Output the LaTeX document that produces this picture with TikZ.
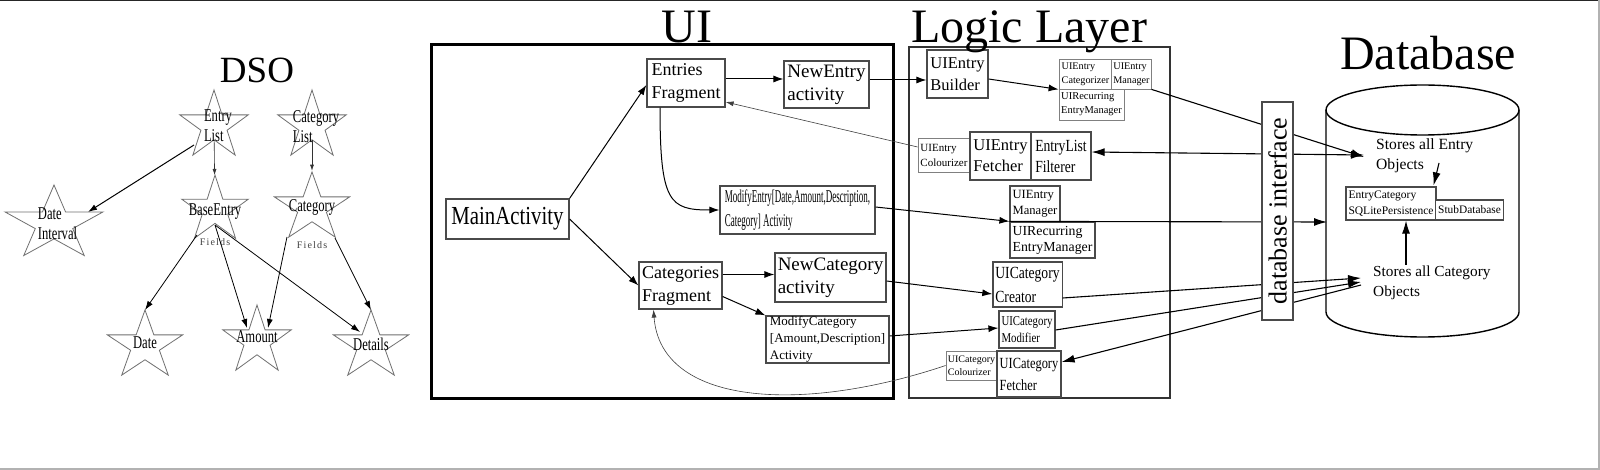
\documentclass[tikz,border=0pt]{standalone}
\usepackage{fontspec}
\usepackage{graphicx}
\setmainfont{Liberation Serif}
\newfontfamily\condfont[FakeStretch=0.8]{Liberation Serif}
\newfontfamily\starfont[FakeStretch=0.7]{Liberation Serif}
\newfontfamily\vcondfont[FakeStretch=0.5]{Liberation Serif}
\newfontfamily\fieldsfont[LetterSpace=12]{Liberation Serif}
\usetikzlibrary{shapes.geometric,arrows.meta,calc}
\newcommand\myfs[2]{\fontsize{#1}{#2}\selectfont}
\definecolor{boxgray}{HTML}{4A4A4A}
\definecolor{lightbox}{HTML}{808080}
\definecolor{stargray}{HTML}{707070}
\tikzset{
  bx/.style={draw=boxgray, line width=1.2pt, inner xsep=2.5pt, inner ysep=0pt, align=left, fill=white},
  sbx/.style={bx, draw=lightbox, line width=0.8pt, inner xsep=1.5pt},
  dstar/.style={star, star points=5, star point ratio=2.618, draw=stargray, line width=0.8pt, inner sep=0pt},
  stxt/.style={font=\starfont\myfs{18}{20}, align=left, inner sep=0pt},
  ftxt/.style={font=\fieldsfont\myfs{10}{12}, text=black!75, inner sep=0pt},
  arr/.style={draw=black, line width=1pt, -{Latex[length=10pt,width=7pt]}},
  bigarr/.style={draw=black, line width=1.1pt, -{Latex[length=13pt,width=8pt]}},
  botharr/.style={draw=black, line width=1.1pt, {Latex[length=13pt,width=8pt]}-{Latex[length=13pt,width=8pt]}},
  thinarr/.style={draw=black!75, line width=0.6pt, -{Latex[length=8pt,width=5pt]}},
  darr/.style={draw=black, line width=0.8pt, -{Latex[length=9pt,width=6pt]}},
  sarr/.style={draw=black!80, line width=0.6pt, -{Latex[length=6pt,width=4pt]}},
  ttl/.style={anchor=base, inner sep=0pt}
}
\begin{document}
\begin{tikzpicture}[x=1pt,y=-1pt]
\useasboundingbox (0,0) rectangle (1600,470);
\fill[white] (0,0) rectangle (1600,470);
\draw[line width=1.5pt, black!85] (0,0.75) -- (1600,0.75);
\draw[line width=2pt, black!30] (1599,0) -- (1599,470);
\draw[line width=2pt, black!30] (0,469) -- (1600,469);

% ---------------- DSO ----------------
\node[ttl, font=\myfs{37}{40}] (tdso) at (257,83) {DSO};
\node[dstar, minimum size=72pt] (el) at (214,126) {};
\node[dstar, minimum size=72pt] (cl) at (312,126) {};
\begin{scope}[shift={(54,224)}]
  \node[dstar, minimum size=78pt, xscale=1.32, transform shape] (di) at (0,0) {};
\end{scope}
\node[dstar, minimum size=70pt] (be) at (215,210) {};
\begin{scope}[shift={(312,208)}]
  \node[dstar, minimum size=72pt, xscale=1.1, transform shape] (ca) at (0,0) {};
\end{scope}
\begin{scope}[shift={(145,346)}]
  \node[dstar, minimum size=72pt, xscale=1.1, transform shape] (da) at (0,0) {};
\end{scope}
\node[dstar, minimum size=72pt] (am) at (257,341) {};
\begin{scope}[shift={(371,346)}]
  \node[dstar, minimum size=72pt, xscale=1.1, transform shape] (de) at (0,0) {};
\end{scope}

\node[stxt] (elt) at (218,126) {Entry\\List};
\node[stxt] (clt) at (316,126.5) {Category\\List};
\node[stxt] (dit) at (57.5,223.5) {Date\\Interval};
\node[stxt] (bet) at (215,212) {BaseEntry};
\node[stxt] (cat) at (312,207) {Category};
\node[stxt] (dat) at (145,343) {Date};
\node[stxt] (amt) at (257,337) {Amount};
\node[stxt] (det) at (371,344) {Details};
\node[ftxt] (bef) at (215,242) {Fields};
\node[ftxt] (caf) at (312,245) {Fields};

\draw[sarr] (el) -- (be);
\draw[sarr] (cl) -- (ca);
\draw[darr, line width=1pt] ($(el)+(-20,19)$) -- ($(di)+(34,-12)$);
\draw[darr] ($(be)+(-18,25)$) -- ($(da)+(0,-36)$);
\draw[darr] ($(be)+(0,15)$) -- ($(am)+(-10,-13)$);
\draw[darr] ($(be)+(0,15)$) -- ($(de)+(-11,-14)$);
\draw[darr] ($(ca)+(-25,29)$) -- ($(am)+(11,-13)$);
\draw[darr] ($(ca)+(23,30)$) -- ($(de)+(0,-36)$);

% ---------------- frames ----------------
\node[draw=black, line width=3pt, minimum width=462pt, minimum height=353pt, inner sep=0pt] (uibox) at (662,221.5) {};
\node[draw=black!80, line width=2pt, minimum width=261pt, minimum height=351pt, inner sep=0pt] (llbox) at (1039.5,222.5) {};

% ---------------- UI ----------------
\node[bx, minimum width=78pt, minimum height=48pt, font=\myfs{18}{23}] (ef) at (686,83) {Entries\\Fragment};
\node[bx, minimum width=85pt, minimum height=47pt, font=\myfs{19}{23}] (ne) at (826.5,84.5) {NewEntry\\activity};
\node[bx, minimum width=123pt, minimum height=40pt, font=\condfont\myfs{26}{28}] (ma) at (507.5,219) {MainActivity};
\node[bx, minimum width=155pt, minimum height=48pt, font=\vcondfont\myfs{18}{24}] (me) at (797.5,210) {ModifyEntry[Date,Amount,Description,\\Category] Activity};
\node[bx, minimum width=83pt, minimum height=47pt, font=\myfs{18}{23}] (cf) at (680.5,285.5) {Categories\\Fragment};
\node[bx, minimum width=111pt, minimum height=49pt, font=\myfs{19}{23}] (nc) at (830.5,277.5) {NewCategory\\activity};
\node[bx, minimum width=123pt, minimum height=47pt, font=\myfs{13}{17}] (mc) at (827.5,339.5) {ModifyCategory\\{}[Amount,Description]\\Activity};

% ---------------- Logic ----------------
\node[bx, minimum width=61pt, minimum height=48pt, font=\myfs{16.5}{22}] (ueb) at (957.5,74) {UIEntry\\Builder};
\node[sbx, minimum width=53pt, minimum height=30pt, font=\myfs{10.2}{14}] (uec) at (1085.5,74) {UIEntry\\Categorizer};
\node[sbx, minimum width=39pt, minimum height=30pt, font=\myfs{10.2}{14}] (uem1) at (1131.5,74) {UIEntry\\Manager};
\node[sbx, minimum width=65pt, minimum height=31pt, font=\myfs{10.5}{14}] (urm1) at (1091.5,104.5) {UIRecurring\\EntryManager};
\node[sbx, minimum width=52pt, minimum height=34pt, font=\myfs{11}{15}] (ueco) at (944,155) {UIEntry\\Colourizer};
\node[bx, minimum width=61pt, minimum height=48pt, font=\myfs{16.5}{21}] (uef) at (1000.5,156) {UIEntry\\Fetcher};
\node[bx, minimum width=60pt, minimum height=48pt, font=\condfont\myfs{17}{21}] (elf) at (1061,156) {EntryList\\Filterer};
\node[bx, minimum width=50pt, minimum height=36pt, font=\myfs{12.6}{16}] (uem2) at (1035,204) {UIEntry\\Manager};
\node[bx, minimum width=85pt, minimum height=36pt, font=\myfs{13.8}{16}] (urm2) at (1052.5,240) {UIRecurring\\EntryManager};
\node[bx, minimum width=69pt, minimum height=45pt, font=\condfont\myfs{17}{24}] (ucc) at (1027.5,284.5) {UICategory\\Creator};
\node[bx, minimum width=56pt, minimum height=37pt, font=\condfont\myfs{13.5}{17}] (ucm) at (1027,329.5) {UICategory\\Modifier};
\node[sbx, minimum width=51pt, minimum height=29pt, font=\myfs{10}{13}] (ucco) at (971.5,365.5) {UICategory\\Colourizer};
\node[bx, minimum width=64pt, minimum height=46pt, font=\condfont\myfs{15.5}{22}] (ucf) at (1029,374) {UICategory\\Fetcher};

% ---------------- Database ----------------
\draw[line width=1.4pt] (1326,110) -- (1326,312) arc[start angle=180, end angle=360, x radius=96.5pt, y radius=25pt] -- (1519,110);
\draw[line width=1.4pt] (1422.5,110) ellipse[x radius=96.5pt, y radius=25pt];
\coordinate (dbwall) at (1327,222);
\node[bx, minimum width=90pt, minimum height=33pt, font=\myfs{11.5}{16}] (sqlp) at (1391,203.5) {EntryCategory\\SQLitePersistence};
\node[bx, minimum width=67pt, minimum height=20pt, font=\myfs{11.4}{14}] (stub) at (1469.5,210) {StubDatabase};
\node[anchor=west, inner xsep=12pt, inner ysep=2pt, align=left, font=\myfs{15.6}{20}] (se) at (1364,156) {Stores all Entry\\Objects};
\node[anchor=west, inner xsep=12pt, inner ysep=2pt, align=left, font=\myfs{15.3}{20}] (sc) at (1361,283) {Stores all Category\\Objects};

% ---------------- connectors ----------------
\draw[arr] (ma.north east) -- ($(ef.west)+(0,2)$);
\draw[arr] (ma.east) -- (cf.west);
\draw[arr] ($(ef.east)+(0,-4)$) -- ($(ne.west)+(0,-5.5)$);
\draw[arr] ($(ef.south)+(-26,0)$) .. controls +(0,95) and +(-50,0) .. (me.west);
\draw[arr] ($(cf.east)+(0,-11)$) -- ($(nc.west)+(0,-3)$);
\draw[arr] ($(cf.east)+(0,11)$) -- (mc.north west);
\draw[arr] ($(ne.east)+(0,-4.5)$) -- ($(ueb.west)+(0,6)$);
\draw[thinarr] ($(ueco.west)+(0,-8)$) -- ($(ef.east)+(0,19)$);
\draw[arr] ($(me.east)+(0,-3)$) -- (urm2.north west);
\draw[arr] ($(nc.east)+(0,3.5)$) -- ($(ucc.west)+(0,9.5)$);
\draw[arr] ($(mc.east)+(0,-3.5)$) -- ($(ucm.west)+(0,-1.5)$);
\draw[thinarr] (ucco.west) .. controls +(-146,49) and +(7,95) .. ($(cf.south)+(-27,0)$);
\draw[arr] ($(ueb.east)+(0,5)$) -- (uec.south west);

\draw[bigarr] (uem1.south east) -- ($(se.west)+(0,1)$);
\draw[botharr] ($(elf.east)+(0,-4)$) -- ($(se.west)+(0,-1)$);
\draw[bigarr] (urm2.north west) -- (dbwall);
\draw[bigarr] ($(ucc.east)+(0,13.5)$) -- ($(sc.west)+(0,-5)$);
\draw[bigarr] ($(ucm.east)+(0,0.5)$) -- ($(sc.west)+(0,-1)$);
\draw[bigarr] ($(sc.west)+(0,2)$) -- ($(ucf.east)+(0,-12)$);
\draw[bigarr] ($(se.west)+(75,7)$) -- ($(sqlp.north east)+(-3,-1)$);
\coordinate (scup) at ($(sc.west)+(45,-18)$);
\draw[bigarr] (scup) -- (scup |- sqlp.south);

\node[draw=boxgray, line width=1.1pt, fill=white, minimum width=31pt, minimum height=218pt, inner sep=0pt] (dbi) at (1277.5,211) {\rotatebox{90}{\myfs{26}{26}database interface}};

% ---------------- titles ----------------
\node[ttl, font=\myfs{48}{50}] (tui) at (687,43) {UI};
\node[ttl, font=\myfs{48}{50}] (tll) at (1029,43) {Logic Layer};
\node[ttl, font=\myfs{48}{50}] (tdb) at (1428,70) {Database};
\end{tikzpicture}
\end{document}
